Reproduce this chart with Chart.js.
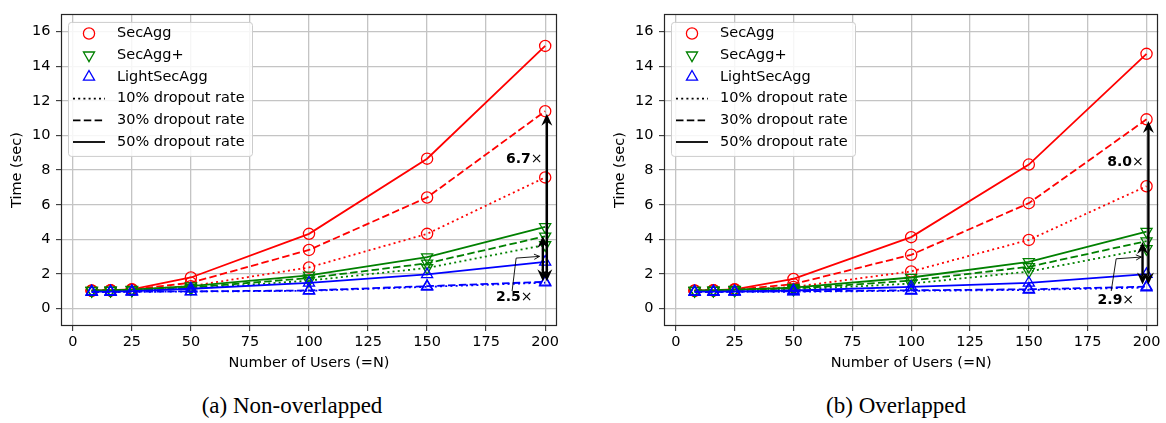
<!DOCTYPE html>
<html><head><meta charset="utf-8">
<script src="https://cdn.jsdelivr.net/npm/chart.js"></script>
<style>
html,body{margin:0;padding:0;background:#fff;width:1166px;height:423px;overflow:hidden;}
.wrap{position:absolute;top:0;height:380px;}
#wa{left:0;width:603px;}
#wb{left:603px;width:563px;}
.cap{position:absolute;top:392px;font-family:'Liberation Serif','Times New Roman',serif;font-size:23px;line-height:28px;white-space:nowrap;transform:translateX(-50%);color:#000}
</style></head>
<body>
<div class="wrap" id="wa"><canvas id="ca" width="603" height="380"></canvas></div>
<div class="wrap" id="wb"><canvas id="cb" width="563" height="380"></canvas></div>
<div class="cap" style="left:292px">(a) Non-overlapped</div>
<div class="cap" style="left:896px">(b) Overlapped</div>
<script>
// ---------- data ----------
const users = [8, 16, 25, 50, 100, 150, 200];
const xTicks = [0, 25, 50, 75, 100, 125, 150, 175, 200];
const yTicks = [0, 2, 4, 6, 8, 10, 12, 14, 16];
const protocols = ['SecAgg', 'SecAgg+', 'LightSecAgg'];
const dropoutLabels = ['10% dropout rate', '30% dropout rate', '50% dropout rate'];

// (a) Non-overlapped
const a_secAgg10 = [1.03, 1.05, 1.08, 1.30, 2.38, 4.32, 7.58];
const a_secAgg30 = [1.04, 1.06, 1.10, 1.50, 3.39, 6.42, 11.40];
const a_secAgg50 = [1.05, 1.07, 1.12, 1.80, 4.32, 8.66, 15.17];
const a_secAggPlus10 = [1.03, 1.04, 1.06, 1.15, 1.62, 2.35, 3.68];
const a_secAggPlus30 = [1.04, 1.05, 1.08, 1.22, 1.77, 2.62, 4.18];
const a_secAggPlus50 = [1.05, 1.06, 1.10, 1.30, 1.92, 2.98, 4.72];
const a_light10 = [0.96, 0.96, 0.97, 0.99, 1.03, 1.26, 1.50];
const a_light30 = [0.97, 0.97, 0.98, 1.00, 1.05, 1.30, 1.55];
const a_light50 = [0.98, 0.99, 1.01, 1.15, 1.49, 1.98, 2.70];

// (b) Overlapped
const b_secAgg10 = [1.03, 1.05, 1.08, 1.25, 2.15, 3.97, 7.07];
const b_secAgg30 = [1.04, 1.06, 1.10, 1.42, 3.11, 6.09, 10.93];
const b_secAgg50 = [1.05, 1.07, 1.12, 1.72, 4.13, 8.32, 14.71];
const b_secAggPlus10 = [1.03, 1.04, 1.06, 1.10, 1.45, 2.14, 3.45];
const b_secAggPlus30 = [1.04, 1.05, 1.08, 1.16, 1.62, 2.42, 3.90];
const b_secAggPlus50 = [1.05, 1.06, 1.10, 1.22, 1.80, 2.70, 4.45];
const b_light10 = [0.96, 0.96, 0.97, 0.98, 1.03, 1.08, 1.22];
const b_light30 = [0.97, 0.97, 0.98, 1.00, 1.06, 1.12, 1.27];
const b_light50 = [0.98, 0.99, 1.00, 1.05, 1.26, 1.49, 1.99];

// speed-up annotations (data coordinates)
const a_longArrow = [200.7, 11.25, 1.58];   // x, top, bottom
const a_shortArrow = [199.0, 4.20, 1.58];
const a_longLabel = ['6.7', 183.4, 8.62];
const a_shortLabel = ['2.5', 179.2, 0.65];
const a_pointer = [[186.0, 1.02], [187.7, 2.92], [197.6, 3.02]];
const b_longArrow = [200.8, 10.84, 1.40];
const b_shortArrow = [198.3, 3.85, 1.40];
const b_longLabel = ['8.0', 183.3, 8.47];
const b_shortLabel = ['2.9', 179.2, 0.46];
const b_pointer = [[185.0, 1.02], [187.1, 2.88], [197.8, 2.98]];

// ---------- styling ----------
const FONT = 'DejaVu Sans';
const FS = 14.5;
const colors = { 'SecAgg': '#ff0000', 'SecAgg+': '#008000', 'LightSecAgg': '#0000ff' };
const dashes = { 10: [2, 3.2], 30: [7.5, 3.3], 50: [] };
const LW = 1.8;

function series(vals) { return users.map((u, i) => ({ x: u, y: vals[i] })); }

function mkDataset(proto, rate, vals) {
  const c = colors[proto];
  let ps = 'circle', rot = 0, r = 5.6;
  if (proto === 'SecAgg+') { ps = 'triangle'; rot = 180; r = 6.4; }
  if (proto === 'LightSecAgg') { ps = 'triangle'; rot = 0; r = 6.4; }
  return {
    label: proto + ' ' + rate + '%',
    data: series(vals),
    borderColor: c, borderWidth: LW, borderDash: dashes[rate],
    pointStyle: ps, pointRotation: rot, pointRadius: r,
    pointBorderColor: c, pointBackgroundColor: 'rgba(0,0,0,0)', pointBorderWidth: 1.3,
    fill: false, tension: 0
  };
}

function drawMarker(ctx, proto, x, y) {
  const c = colors[proto];
  ctx.save();
  ctx.strokeStyle = c; ctx.lineWidth = 1.3; ctx.setLineDash([]);
  ctx.beginPath();
  if (proto === 'SecAgg') {
    ctx.arc(x, y, 5.6, 0, Math.PI * 2);
  } else {
    const r = 6.4, s = proto === 'SecAgg+' ? -1 : 1;
    for (let k = 0; k < 3; k++) {
      const a = k * 2 * Math.PI / 3 + (s < 0 ? Math.PI : 0);
      const px = x + Math.sin(a) * r, py = y - Math.cos(a) * r;
      if (k === 0) ctx.moveTo(px, py); else ctx.lineTo(px, py);
    }
    ctx.closePath();
  }
  ctx.stroke();
  ctx.restore();
}

const framePlugin = {
  id: 'frame',
  afterDatasetsDraw(chart) {
    const { ctx, chartArea: a } = chart;
    ctx.save();
    ctx.strokeStyle = '#262626'; ctx.lineWidth = 1.2; ctx.setLineDash([]);
    ctx.strokeRect(Math.round(a.left) + 0.5, Math.round(a.top) + 0.5, Math.round(a.right - a.left) - 1, Math.round(a.bottom - a.top) - 1);
    ctx.restore();
  }
};

function head(ctx, x, y, dir) {
  const L = 12, W = 5.5, N = 8;
  ctx.beginPath();
  ctx.moveTo(x, y);
  ctx.lineTo(x - W, y - dir * L);
  ctx.lineTo(x, y - dir * N);
  ctx.lineTo(x + W, y - dir * L);
  ctx.closePath();
  ctx.fill();
}

function makeAnnPlugin(longA, shortA, longL, shortL, pointer) {
  return {
    id: 'ann',
    afterDatasetsDraw(chart) {
      const { ctx, scales: { x, y } } = chart;
      ctx.save();
      ctx.fillStyle = '#000'; ctx.strokeStyle = '#000'; ctx.setLineDash([]);
      for (const arr of [longA, shortA]) {
        const px = x.getPixelForValue(arr[0]);
        const pt = y.getPixelForValue(arr[1]);
        const pb = y.getPixelForValue(arr[2]);
        ctx.lineWidth = 2.4;
        ctx.beginPath(); ctx.moveTo(px, pt + 8); ctx.lineTo(px, pb - 8); ctx.stroke();
        head(ctx, px, pt, -1);
        head(ctx, px, pb, 1);
      }
      // pointer
      ctx.lineWidth = 0.9;
      const p = pointer.map(q => [x.getPixelForValue(q[0]), y.getPixelForValue(q[1])]);
      ctx.beginPath(); ctx.moveTo(p[0][0], p[0][1]); ctx.lineTo(p[1][0], p[1][1]); ctx.lineTo(p[2][0], p[2][1]); ctx.stroke();
      const ang = Math.atan2(p[2][1] - p[1][1], p[2][0] - p[1][0]);
      ctx.beginPath();
      ctx.moveTo(p[2][0] - 6 * Math.cos(ang - 0.45), p[2][1] - 6 * Math.sin(ang - 0.45));
      ctx.lineTo(p[2][0], p[2][1]);
      ctx.lineTo(p[2][0] - 6 * Math.cos(ang + 0.45), p[2][1] - 6 * Math.sin(ang + 0.45));
      ctx.stroke();
      // labels
      ctx.textBaseline = 'middle'; ctx.textAlign = 'left';
      for (const L of [longL, shortL]) {
        const px = x.getPixelForValue(L[1]);
        const py = y.getPixelForValue(L[2]);
        ctx.font = 'bold 14px "' + FONT + '"';
        ctx.fillText(L[0], px, py);
        const w = ctx.measureText(L[0]).width;
        ctx.font = '14px "' + FONT + '"';
        ctx.fillText('\u00d7', px + w, py);
      }
      ctx.restore();
    }
  };
}

const legendPlugin = {
  id: 'lg',
  afterDraw(chart) {
    const { ctx, chartArea: a } = chart;
    const bx = a.left + 7, by = a.top + 7.7, bw = 184, bh = 134;
    ctx.save();
    ctx.setLineDash([]);
    ctx.fillStyle = 'rgba(255,255,255,0.85)';
    ctx.strokeStyle = '#cccccc'; ctx.lineWidth = 1;
    ctx.beginPath();
    if (ctx.roundRect) ctx.roundRect(bx + 0.5, by + 0.5, bw, bh, 3); else ctx.rect(bx + 0.5, by + 0.5, bw, bh);
    ctx.fill(); ctx.stroke();
    ctx.font = FS + 'px "' + FONT + '"';
    ctx.fillStyle = '#000'; ctx.textBaseline = 'middle'; ctx.textAlign = 'left';
    const rowY = i => a.top + 19.3 + i * 21.7;
    protocols.forEach((p, i) => {
      drawMarker(ctx, p, a.left + 28, rowY(i));
      ctx.fillText(p, a.left + 56, rowY(i));
    });
    [10, 30, 50].forEach((r, j) => {
      const yy = rowY(3 + j);
      ctx.strokeStyle = '#000'; ctx.lineWidth = LW; ctx.setLineDash(dashes[r]);
      ctx.beginPath(); ctx.moveTo(a.left + 12, yy); ctx.lineTo(a.left + 44, yy); ctx.stroke();
      ctx.setLineDash([]);
      ctx.fillText(dropoutLabels[j], a.left + 56, yy);
    });
    ctx.restore();
  }
};

function makeChart(id, rightPad, sets, ann) {
  const datasets = sets.map(s => mkDataset(s[0], s[1], s[2]));
  const tickFont = { family: FONT, size: FS };
  return new Chart(document.getElementById(id), {
    type: 'line',
    data: { datasets },
    options: {
      responsive: false, animation: false, devicePixelRatio: 1,
      layout: { padding: { top: 4, right: rightPad, bottom: 0, left: 0 } },
      plugins: { legend: { display: false }, tooltip: { enabled: false } },
      scales: {
        x: {
          type: 'linear', min: -5, max: 205,
          afterBuildTicks: s => { s.ticks = xTicks.map(v => ({ value: v })); },
          afterFit: s => { s.height = 54; },
          ticks: { padding: 3, font: tickFont, color: '#000', maxRotation: 0, autoSkip: false },
          grid: { color: '#c4c4c4', lineWidth: 1.3, tickLength: 5, tickColor: '#222', tickWidth: 1 },
          border: { display: false },
          title: { display: true, text: 'Number of Users (=N)', color: '#000', font: tickFont, padding: { top: 0, bottom: 8.3 } }
        },
        y: {
          type: 'linear', min: -1, max: 17,
          afterBuildTicks: s => { s.ticks = yTicks.map(v => ({ value: v })); },
          afterFit: s => { s.width = 61; },
          ticks: { padding: 5.5, font: tickFont, color: '#000', autoSkip: false },
          grid: { color: '#c4c4c4', lineWidth: 1.3, tickLength: 5, tickColor: '#222', tickWidth: 1 },
          border: { display: false },
          title: { display: true, text: 'Time (sec)', color: '#000', font: tickFont, padding: { top: 8.3, bottom: 0 } }
        }
      }
    },
    plugins: [framePlugin, makeAnnPlugin(...ann), legendPlugin]
  });
}

makeChart('ca', 46, [
  ['LightSecAgg', 50, a_light50], ['LightSecAgg', 30, a_light30], ['LightSecAgg', 10, a_light10],
  ['SecAgg+', 50, a_secAggPlus50], ['SecAgg+', 30, a_secAggPlus30], ['SecAgg+', 10, a_secAggPlus10],
  ['SecAgg', 50, a_secAgg50], ['SecAgg', 30, a_secAgg30], ['SecAgg', 10, a_secAgg10]
], [a_longArrow, a_shortArrow, a_longLabel, a_shortLabel, a_pointer]);

makeChart('cb', 7, [
  ['LightSecAgg', 50, b_light50], ['LightSecAgg', 30, b_light30], ['LightSecAgg', 10, b_light10],
  ['SecAgg+', 50, b_secAggPlus50], ['SecAgg+', 30, b_secAggPlus30], ['SecAgg+', 10, b_secAggPlus10],
  ['SecAgg', 50, b_secAgg50], ['SecAgg', 30, b_secAgg30], ['SecAgg', 10, b_secAgg10]
], [b_longArrow, b_shortArrow, b_longLabel, b_shortLabel, b_pointer]);
</script>
</body></html>
